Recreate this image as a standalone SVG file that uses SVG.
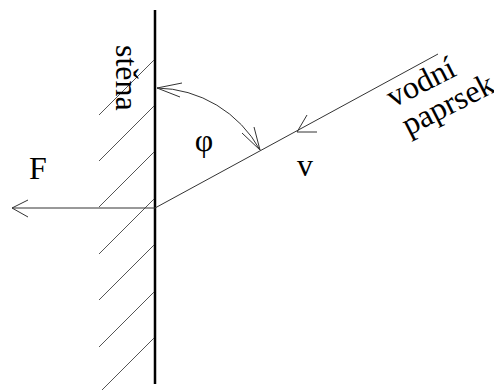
<svg xmlns="http://www.w3.org/2000/svg" width="494" height="390" viewBox="0 0 494 390">
<style>
.t{font-family:"Liberation Serif","Times New Roman",serif;font-size:32px;fill:#000}
.thin{stroke:#333;stroke-width:1;fill:none}
.hatch{stroke:#555;stroke-width:1;fill:none}
</style>
<rect width="494" height="390" fill="#fff"/>
<g id="wall">
<line x1="155" y1="10" x2="155" y2="384" stroke="#000" stroke-width="2.5"/>
<g class="hatch">
<line x1="154" y1="60" x2="99" y2="115"/>
<line x1="154" y1="106" x2="99" y2="161"/>
<line x1="154" y1="152" x2="99" y2="207"/>
<line x1="154" y1="199" x2="99" y2="254"/>
<line x1="154" y1="245" x2="99" y2="300"/>
<line x1="154" y1="292" x2="99" y2="347"/>
<line x1="154" y1="338" x2="99" y2="393"/>
</g>
<text class="t" transform="translate(116,45) rotate(90)">stěna</text>
</g>
<g id="connectors">
<g id="jet">
<line class="thin" x1="438" y1="54" x2="155" y2="208"/>
<polyline class="thin" points="307,115 297,132 317,132"/>
</g>
<g id="force">
<line class="thin" x1="155" y1="208" x2="12" y2="208"/>
<polyline class="thin" points="28,200 12,208 28,217"/>
</g>
<g id="angle">
<path class="thin" d="M157,88 A120,120 0 0 1 260,150"/>
<polyline class="thin" points="182,83 157,88 180,97"/>
<polyline class="thin" points="242,133 260,150 254,127"/>
</g>
</g>
<g id="labels">
<text class="t" x="29" y="179">F</text>
<text class="t" x="204" y="151" text-anchor="middle">φ</text>
<text class="t" x="297" y="176">v</text>
<g transform="translate(393,108) rotate(-27)">
<text class="t" x="0" y="0">vodní</text>
<text class="t" x="1" y="32">paprsek</text>
</g>
</g>
</svg>
